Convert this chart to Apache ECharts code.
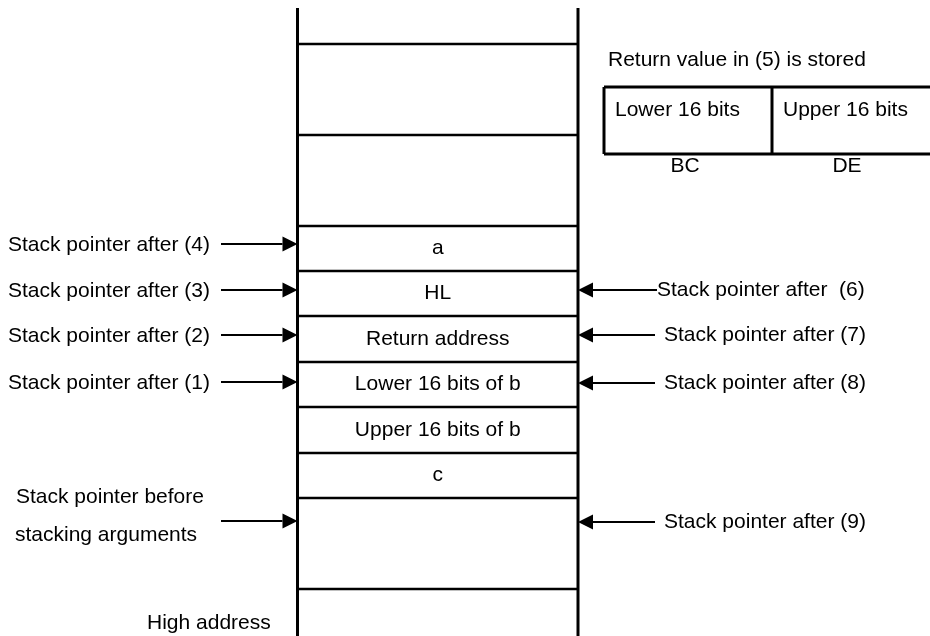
<!DOCTYPE html>
<html>
<head>
<meta charset="utf-8">
<script src="https://cdn.jsdelivr.net/npm/echarts@6/dist/echarts.min.js"></script>
<style>
  html, body { margin: 0; padding: 0; background: #fff; }
  #chart { width: 930px; height: 636px; }
</style>
</head>
<body>
<div id="chart"></div>
<script>
// ============ 数据 ============
// stack frame: the two walls and the row edges (drawing units = px of the 930x636 sheet)
const stackWalls = [297.5, 578]
const wallSpan = [8, 640]
const rowEdges = [44, 135, 226, 271, 316, 362, 407, 453, 498, 589]
const cellNames = ['a', 'HL', 'Return address', 'Lower 16 bits of b', 'Upper 16 bits of b', 'c']
const firstCell = 2 // rowEdges index where 'a' starts

// pointers into the stack, left side (push) and right side (pop)
const leftLabels = ['Stack pointer after (4)', 'Stack pointer after (3)', 'Stack pointer after (2)', 'Stack pointer after (1)']
const leftY = [244, 290, 335, 382]
const beforeLabels = ['Stack pointer before', 'stacking arguments']
const beforeY = [521, 497, 535]
const rightLabels = ['Stack pointer after  (6)', 'Stack pointer after (7)', 'Stack pointer after (8)', 'Stack pointer after (9)']
const rightY = [290, 335, 383, 522]

// return value registers
const regTitle = 'Return value in (5) is stored'
const regCells = ['Lower 16 bits', 'Upper 16 bits']
const regNames = ['BC', 'DE']
const regEdges = [604, 772, 940]
const regSpan = [87, 154]

const bottomLabel = 'High address'

// ============ 样式 ============
const FONT = '21px "Liberation Sans", Arial, sans-serif'
const INK = '#000'

const chart = echarts.init(document.getElementById('chart'))

const lineSeg = (api, a, b, w) => {
  const p0 = api.coord(a)
  const p1 = api.coord(b)
  return {
    type: 'line',
    shape: { x1: p0[0], y1: p0[1], x2: p1[0], y2: p1[1] },
    style: { stroke: INK, lineWidth: w }
  }
}

const textEl = (api, at, text, align) => {
  const p = api.coord(at)
  return {
    type: 'text',
    style: { text, x: p[0], y: p[1], font: FONT, fill: INK, align, verticalAlign: 'middle' }
  }
}

// arrow with a filled triangular head, tip at x1
const arrowEl = (api, x0, x1, y) => {
  const p0 = api.coord([x0, y])
  const p1 = api.coord([x1, y])
  const dir = p1[0] > p0[0] ? 1 : -1
  const headLen = 15
  const half = 7.5
  const base = p1[0] - dir * headLen
  return {
    type: 'group',
    children: [
      { type: 'line', shape: { x1: p0[0], y1: p0[1], x2: base, y2: p1[1] }, style: { stroke: INK, lineWidth: 2 } },
      {
        type: 'polygon',
        shape: { points: [[p1[0], p1[1]], [base, p1[1] - half], [base, p1[1] + half]] },
        style: { fill: INK }
      }
    ]
  }
}

const midX = (stackWalls[0] + stackWalls[1]) / 2

// text pieces: [x, y, text, align]
const texts = []
leftLabels.forEach((t, i) => texts.push([8, leftY[i] + 1, t, 'left']))
texts.push([16, beforeY[1], beforeLabels[0], 'left'])
texts.push([15, beforeY[2], beforeLabels[1], 'left'])
rightLabels.forEach((t, i) => texts.push([i === 0 ? 657 : 664, rightY[i], t, 'left']))
texts.push([608, 60, regTitle, 'left'])
regCells.forEach((t, i) => texts.push([regEdges[i] + 11, 110, t, 'left']))
regNames.forEach((t, i) => texts.push([i === 0 ? 685 : 847, 166, t, 'center']))
texts.push([147, 623, bottomLabel, 'left'])

const option = {
  backgroundColor: '#fff',
  animation: false,
  grid: { left: 0, right: 0, top: 0, bottom: 0 },
  xAxis: { type: 'value', min: 0, max: 930, show: false },
  yAxis: { type: 'value', min: 0, max: 636, inverse: true, show: false },
  series: [
    {
      // stack walls
      type: 'custom',
      clip: false,
      data: stackWalls.map((x) => [x, wallSpan[0], wallSpan[1]]),
      renderItem: (params, api) => lineSeg(api, [api.value(0), api.value(1)], [api.value(0), api.value(2)], 3)
    },
    {
      // row edges
      type: 'custom',
      clip: false,
      data: rowEdges.map((y) => [stackWalls[0], y, stackWalls[1]]),
      renderItem: (params, api) => lineSeg(api, [api.value(0), api.value(1)], [api.value(2), api.value(1)], 2.5)
    },
    {
      // cell contents
      type: 'custom',
      clip: false,
      data: cellNames.map((n, i) => [midX, (rowEdges[firstCell + i] + rowEdges[firstCell + i + 1]) / 2]),
      renderItem: (params, api) => textEl(api, [api.value(0), api.value(1)], cellNames[params.dataIndex], 'center')
    },
    {
      // left arrows
      type: 'custom',
      clip: false,
      data: leftY.concat([beforeY[0]]).map((y) => [221, y, stackWalls[0]]),
      renderItem: (params, api) => arrowEl(api, api.value(0), api.value(2), api.value(1))
    },
    {
      // right arrows
      type: 'custom',
      clip: false,
      data: rightY.map((y, i) => [i === 0 ? 657 : 655, y, stackWalls[1]]),
      renderItem: (params, api) => arrowEl(api, api.value(0), api.value(2), api.value(1))
    },
    {
      // register box
      type: 'custom',
      clip: false,
      data: [0],
      renderItem: (params, api) => ({
        type: 'group',
        children: [
          lineSeg(api, [regEdges[0], regSpan[0]], [regEdges[2], regSpan[0]], 3),
          lineSeg(api, [regEdges[0], regSpan[1]], [regEdges[2], regSpan[1]], 3),
          lineSeg(api, [regEdges[0], regSpan[0]], [regEdges[0], regSpan[1]], 3),
          lineSeg(api, [regEdges[1], regSpan[0]], [regEdges[1], regSpan[1]], 3)
        ]
      })
    },
    {
      // free text
      type: 'custom',
      clip: false,
      data: texts.map((t) => [t[0], t[1]]),
      renderItem: (params, api) => {
        const t = texts[params.dataIndex]
        return textEl(api, [api.value(0), api.value(1)], t[2], t[3])
      }
    }
  ]
}

chart.setOption(option)
</script>
</body>
</html>
